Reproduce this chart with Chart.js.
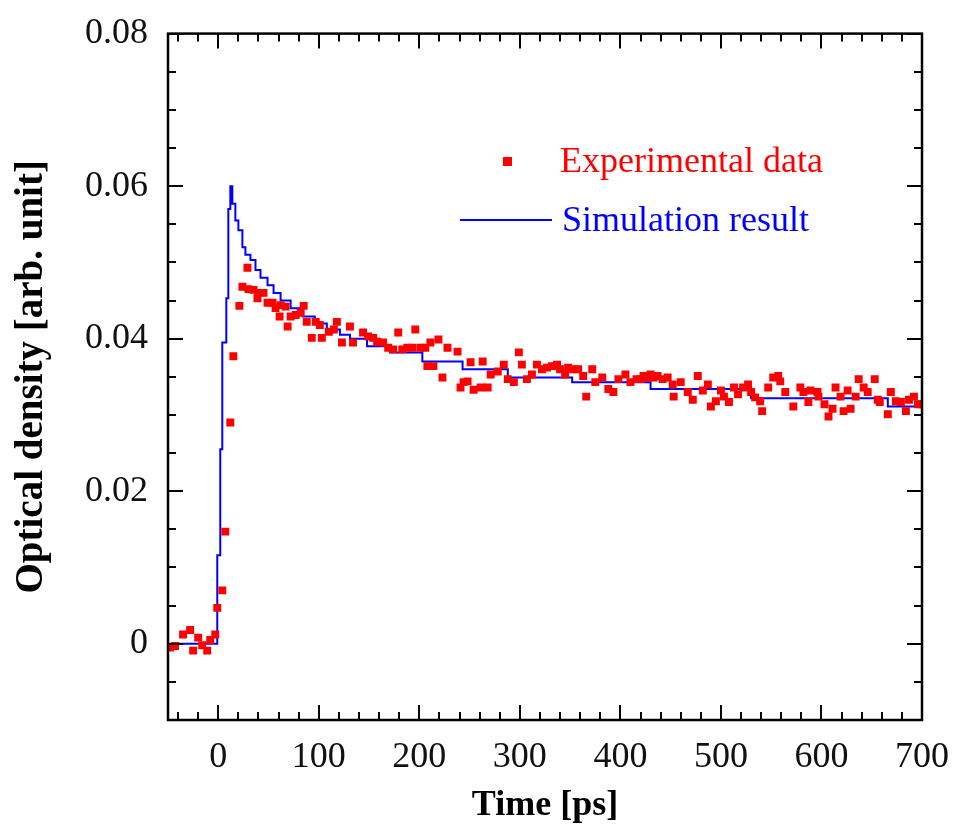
<!DOCTYPE html>
<html>
<head>
<meta charset="utf-8">
<script src="https://cdn.jsdelivr.net/npm/chart.js@4.4.1/dist/chart.umd.min.js"></script>
<style>
  html, body { margin: 0; padding: 0; background: #fff; }
  #wrap { width: 957px; height: 840px; }
</style>
</head>
<body>
<div id="wrap"><canvas id="c" width="957" height="840"></canvas></div>
<script>
// ---- Data ----
const expTime = [-48,-43,-35,-28,-25,-20,-16,-11,-8,-3,-1,4,7,12,15,21,24,29,30,35,39,40,45,49,54,57,61,62,67,69,72,77,82,85,88,93,97,101,103,110,115,118,123,131,134,144,149,154,158,164,169,174,179,183,188,193,196,201,206,208,211,214,219,223,228,238,241,244,248,251,254,261,263,268,271,278,284,288,294,299,302,307,312,317,322,327,332,337,340,345,348,353,358,363,366,372,375,382,388,393,398,405,410,416,420,423,427,430,433,437,442,447,452,453,460,467,472,477,482,487,490,495,500,503,508,513,517,522,527,530,534,539,541,547,552,557,559,564,572,579,582,587,589,596,597,603,607,611,614,619,622,626,629,634,637,642,646,653,656,658,666,669,674,679,684,687,692,696,700];
const expOD = [-0.0005,-0.0003,0.0012,0.0018,-0.0009,0.0008,-0.0002,-0.0009,0.0005,0.0012,0.0047,0.0070,0.0147,0.0290,0.0377,0.0443,0.0468,0.0493,0.0465,0.0464,0.0453,0.0460,0.0460,0.0447,0.0447,0.0440,0.0429,0.0444,0.0442,0.0416,0.0429,0.0431,0.0434,0.0443,0.0422,0.0401,0.0422,0.0418,0.0401,0.0409,0.0412,0.0422,0.0395,0.0416,0.0395,0.0408,0.0403,0.0401,0.0396,0.0395,0.0388,0.0386,0.0408,0.0386,0.0388,0.0388,0.0412,0.0388,0.0388,0.0364,0.0395,0.0364,0.0399,0.0349,0.0388,0.0383,0.0336,0.0343,0.0344,0.0369,0.0333,0.0336,0.0370,0.0336,0.0353,0.0357,0.0366,0.0347,0.0343,0.0382,0.0366,0.0347,0.0353,0.0366,0.0360,0.0362,0.0364,0.0366,0.0360,0.0353,0.0362,0.0360,0.0360,0.0351,0.0324,0.0360,0.0343,0.0349,0.0334,0.0330,0.0347,0.0353,0.0343,0.0347,0.0347,0.0351,0.0349,0.0353,0.0349,0.0351,0.0347,0.0349,0.0340,0.0324,0.0343,0.0330,0.0320,0.0351,0.0332,0.0340,0.0311,0.0318,0.0332,0.0324,0.0317,0.0336,0.0327,0.0336,0.0340,0.0330,0.0323,0.0318,0.0305,0.0336,0.0349,0.0351,0.0344,0.0330,0.0311,0.0336,0.0330,0.0317,0.0332,0.0330,0.0324,0.0314,0.0298,0.0308,0.0336,0.0324,0.0305,0.0332,0.0308,0.0324,0.0347,0.0336,0.0330,0.0347,0.0320,0.0317,0.0301,0.0330,0.0318,0.0317,0.0305,0.0320,0.0324,0.0314,0.0314];

const simTime = [-50,-1,2,4,8,10,12,14,17,20,24,27,32,37,42,49,55,62,72,84,96,108,121,131,148,171,203,243,288,352,430,530,666,700];
const simOD   = [0,0.0116,0.0255,0.0395,0.0453,0.0570,0.0600,0.0577,0.0555,0.0542,0.0520,0.0510,0.0503,0.0490,0.0480,0.0470,0.0460,0.0450,0.0440,0.0429,0.0420,0.0412,0.0405,0.0400,0.0390,0.0382,0.0370,0.0360,0.0349,0.0343,0.0334,0.0322,0.0311,0.0311];

const xTickLabels = [0,100,200,300,400,500,600,700];
const yTickLabels = [0,0.02,0.04,0.06,0.08];
const seriesNames = ['Experimental data','Simulation result'];
const xTitle = 'Time [ps]';
const yTitle = 'Optical density [arb. unit]';

// ---- Plugins: inward ticks on all sides + frame + in-plot legend ----
const frameTicks = {
  id: 'frameTicks',
  afterDatasetsDraw(chart) {
    const {ctx, chartArea: a, scales: {x, y}} = chart;
    ctx.save();
    ctx.strokeStyle = '#000';
    ctx.lineWidth = 2;
    ctx.beginPath();
    // x ticks
    for (let v = -40; v <= 700; v += 20) {
      const px = Math.round(x.getPixelForValue(v));
      const len = (v % 100 === 0) ? 15 : 8;
      ctx.moveTo(px, a.bottom); ctx.lineTo(px, a.bottom - len);
      ctx.moveTo(px, a.top); ctx.lineTo(px, a.top + len);
    }
    // y ticks
    for (let i = -2; i <= 16; i++) {
      const v = i * 0.005;
      const py = Math.round(y.getPixelForValue(v));
      const len = (i % 4 === 0) ? 15 : 8;
      ctx.moveTo(a.left, py); ctx.lineTo(a.left + len, py);
      ctx.moveTo(a.right, py); ctx.lineTo(a.right - len, py);
    }
    ctx.stroke();
    ctx.lineWidth = 2.5;
    ctx.strokeRect(a.left, a.top, a.right - a.left, a.bottom - a.top);

    // legend
    ctx.font = '36px "Liberation Serif", "Times New Roman", serif';
    ctx.textBaseline = 'alphabetic';
    ctx.textAlign = 'left';
    ctx.fillStyle = '#ff0000';
    ctx.fillRect(503, 157, 9, 9);
    ctx.fillText(seriesNames[0], 560, 172);
    ctx.strokeStyle = '#0000ff';
    ctx.lineWidth = 2;
    ctx.beginPath();
    ctx.moveTo(460, 220); ctx.lineTo(552, 220);
    ctx.stroke();
    ctx.fillStyle = '#0000ff';
    ctx.fillText(seriesNames[1], 562, 231);
    ctx.restore();
  }
};

const serif = '"Liberation Serif", "Times New Roman", serif';

new Chart(document.getElementById('c'), {
  type: 'scatter',
  data: {
    datasets: [
      {
        label: seriesNames[0],
        data: expTime.map((t, i) => ({x: t, y: expOD[i]})),
        pointStyle: 'rect',
        pointRadius: 5.6,
        pointHoverRadius: 5.6,
        backgroundColor: '#ff0000',
        borderWidth: 0,
        showLine: false,
        order: 1
      },
      {
        label: seriesNames[1],
        data: simTime.map((t, i) => ({x: t, y: simOD[i]})),
        showLine: true,
        stepped: 'before',
        borderColor: '#0000ff',
        borderWidth: 2,
        pointRadius: 0,
        fill: false,
        order: 2
      }
    ]
  },
  options: {
    responsive: false,
    animation: false,
    devicePixelRatio: 1,
    layout: { padding: { left: 0, right: 35, top: 32, bottom: 0 } },
    plugins: { legend: { display: false }, tooltip: { enabled: false } },
    scales: {
      x: {
        type: 'linear',
        min: -50, max: 700,
        afterBuildTicks: s => { s.ticks = xTickLabels.map(v => ({value: v})); },
        afterFit: s => { s.height = 120; },
        grid: { display: false },
        border: { display: false },
        ticks: {
          color: '#111',
          font: { family: serif, size: 36 },
          padding: 8,
          maxRotation: 0,
          autoSkip: false
        },
        title: {
          display: true,
          text: xTitle,
          color: '#000',
          font: { family: serif, size: 36, weight: 'bold', lineHeight: 1 },
          padding: { top: 0, bottom: 16 }
        }
      },
      y: {
        type: 'linear',
        min: -0.01, max: 0.08,
        afterBuildTicks: s => { s.ticks = yTickLabels.map(v => ({value: v})); },
        afterFit: s => { s.width = 168; },
        grid: { display: false },
        border: { display: false },
        ticks: {
          color: '#111',
          font: { family: serif, size: 36 },
          padding: 12,
          autoSkip: false,
          callback: v => (v === 0 ? '0' : Number(v).toFixed(2))
        },
        title: {
          display: true,
          text: yTitle,
          color: '#000',
          font: { family: serif, size: 39, weight: 'bold', lineHeight: 1 },
          padding: { top: 12, bottom: 0 }
        }
      }
    }
  },
  plugins: [frameTicks]
});
</script>
</body>
</html>
